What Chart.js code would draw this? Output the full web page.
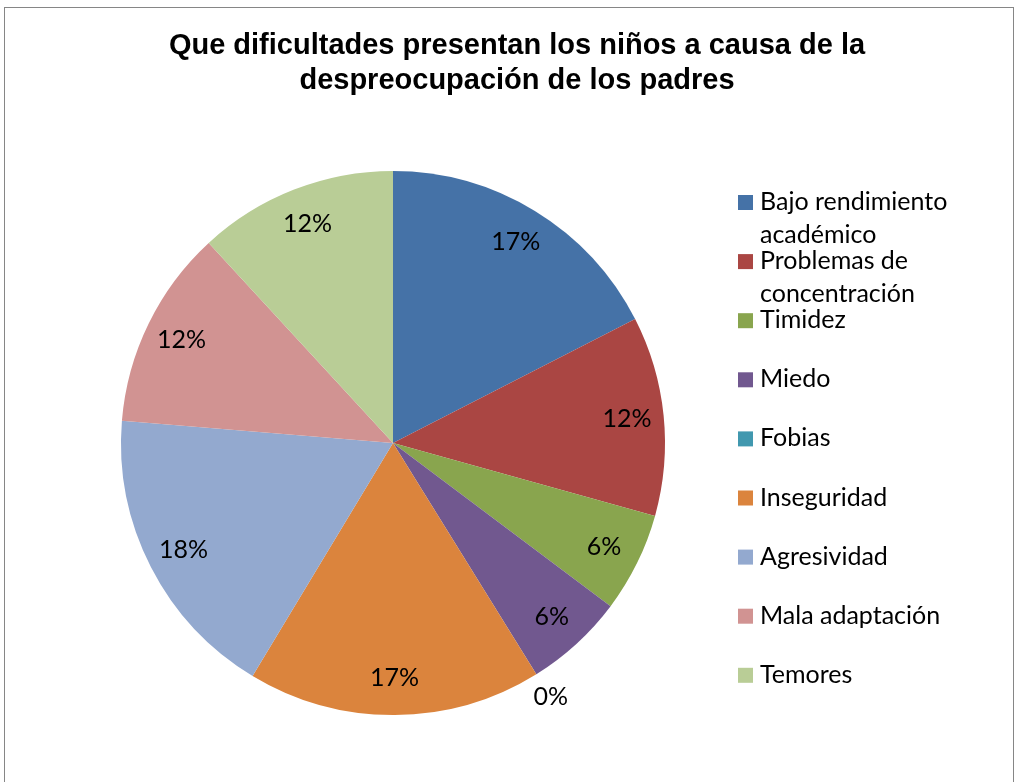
<!DOCTYPE html>
<html>
<head>
<meta charset="utf-8">
<script src="https://cdn.jsdelivr.net/npm/chart.js@4.4.1/dist/chart.umd.min.js"></script>
<style>
  html, body { margin: 0; padding: 0; background: #fff; }
  #wrap { position: relative; width: 1020px; height: 782px; }
  #frame { position: absolute; left: 4px; top: 7px; width: 1010px; height: 800px; border: 1px solid #868686; box-sizing: border-box; }
  canvas { position: absolute; left: 0; top: 0; }
</style>
</head>
<body>
<div id="wrap">
  <div id="frame"></div>
  <canvas id="pieChart" width="1020" height="782"></canvas>
</div>
<script>
// Chart data
const titleLines = ["Que dificultades presentan los niños a causa de la", "despreocupación de los padres"];
const categories = [
  ["Bajo rendimiento", "académico"],
  ["Problemas de", "concentración"],
  ["Timidez"],
  ["Miedo"],
  ["Fobias"],
  ["Inseguridad"],
  ["Agresividad"],
  ["Mala adaptación"],
  ["Temores"],
];
const values = [17.4, 11.8, 5.9, 5.9, 0, 17.4, 17.6, 11.8, 11.8];
const colors = ["#4572A7", "#AA4643", "#89A54E", "#71588F", "#4198AF", "#DB843D", "#93A9CF", "#D19392", "#B9CD96"];

const labelFont = "25px Lato, 'Open Sans', sans-serif";

// Title, legend and percentage labels
const drawExtras = {
  id: "drawExtras",
  afterDraw(chart) {
    const ctx = chart.ctx;
    ctx.save();

    // title
    ctx.fillStyle = "#000";
    ctx.font = "bold 29px 'Liberation Sans', Arial, sans-serif";
    ctx.textAlign = "center";
    ctx.textBaseline = "middle";
    ctx.fillText(titleLines[0], 517, 46);
    ctx.fillText(titleLines[1], 517, 81);

    // percentage labels
    const total = values.reduce((a, b) => a + b, 0);
    const meta = chart.getDatasetMeta(0);
    ctx.font = labelFont;
    meta.data.forEach((arc, i) => {
      const mid = (arc.startAngle + arc.endAngle) / 2;
      const dist = values[i] === 0 ? arc.outerRadius * 1.1 : arc.outerRadius * 0.865;
      const x = arc.x + Math.cos(mid) * dist;
      const y = arc.y + Math.sin(mid) * dist;
      ctx.fillText(Math.round((values[i] / total) * 100) + "%", x, y);
    });

    // legend
    ctx.textAlign = "left";
    categories.forEach((lines, i) => {
      const y = 202 + i * 59.1;
      ctx.fillStyle = colors[i];
      ctx.fillRect(738, y - 7, 15, 15);
      ctx.fillStyle = "#000";
      lines.forEach((t, j) => ctx.fillText(t, 760, y + j * 33));
    });
    ctx.restore();
  },
};

new Chart(document.getElementById("pieChart"), {
  type: "pie",
  data: {
    labels: categories.map((c) => c.join(" ")),
    datasets: [
      {
        data: values,
        backgroundColor: colors,
        borderWidth: 0,
      },
    ],
  },
  options: {
    responsive: false,
    animation: false,
    layout: {
      padding: { left: 121, right: 355, top: 171, bottom: 67 },
    },
    plugins: {
      legend: { display: false },
      tooltip: { enabled: false },
    },
  },
  plugins: [drawExtras],
});
</script>
</body>
</html>
